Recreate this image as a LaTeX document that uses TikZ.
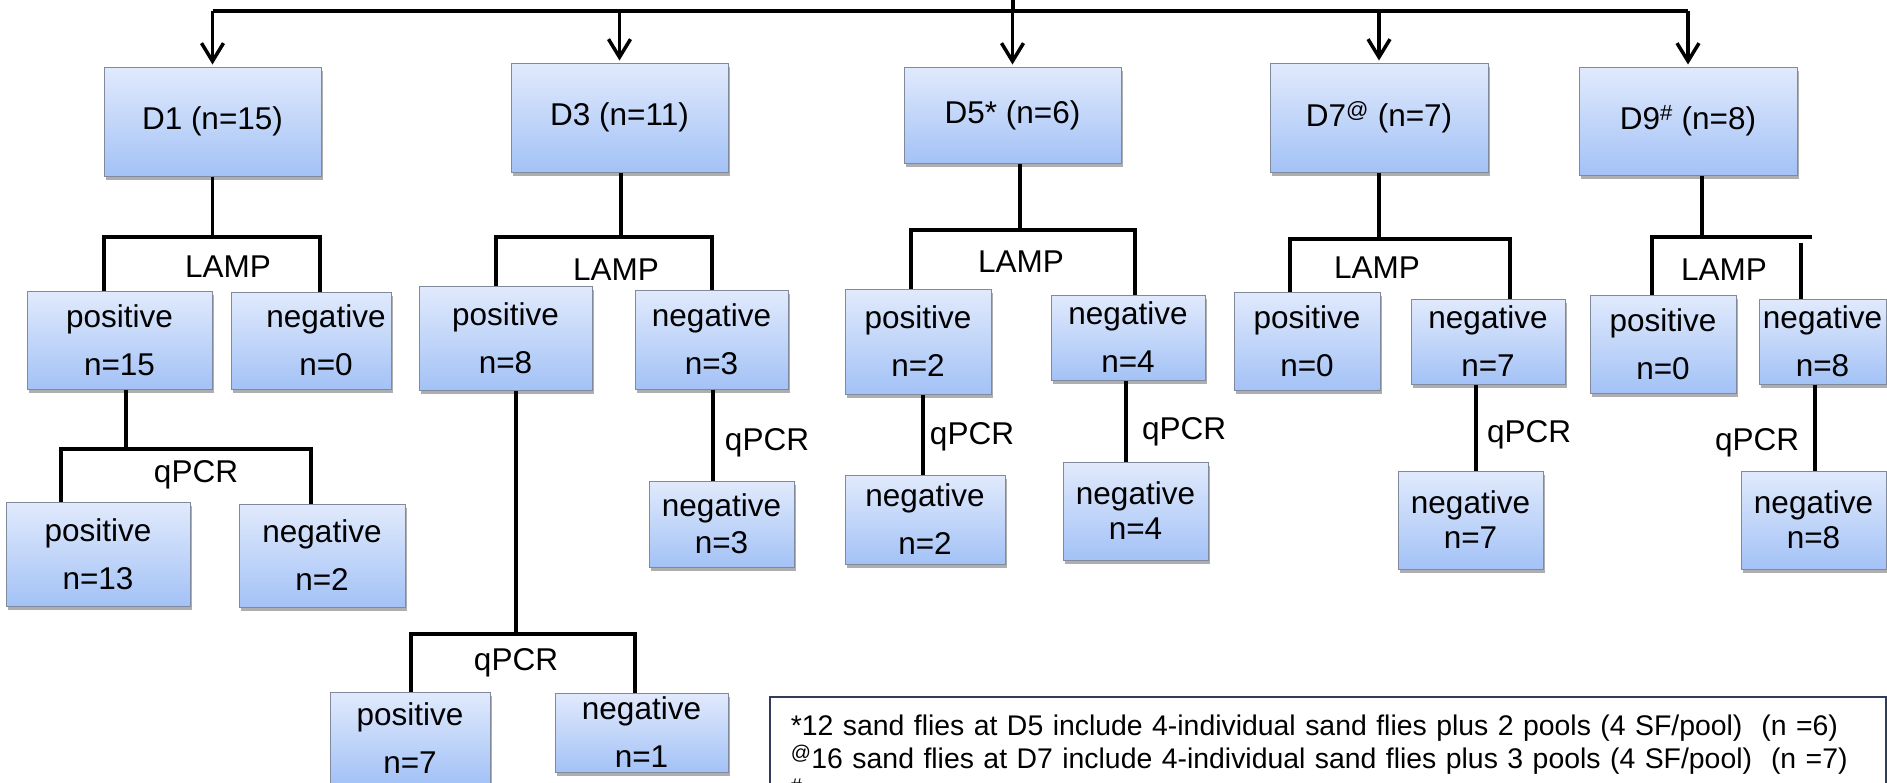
\documentclass[tikz,border=0pt]{standalone}
\usepackage{fontspec}
\setmainfont{Liberation Sans}
\usepackage{xcolor}
\usepackage{tikz}
\usetikzlibrary{positioning,shadows,arrows.meta}
\definecolor{boxtop}{RGB}{225,234,252}
\definecolor{boxbot}{RGB}{163,194,246}
\definecolor{boxline}{RGB}{128,138,156}
\definecolor{noteline}{RGB}{48,60,88}

\begin{document}
\begin{tikzpicture}[x=1pt, y=-1pt,
    res/.style={rectangle, draw=boxline, line width=1pt, top color=boxtop, bottom color=boxbot,
        inner sep=0pt, align=center, font=\fontsize{31.5}{48}\selectfont,
        drop shadow={shadow xshift=1.5pt, shadow yshift=-3.5pt, opacity=0.45, fill=black!70}},
    tag/.style={inner sep=0pt, font=\fontsize{31.5}{38}\selectfont},
    link/.style={line width=3.5pt},
    arr/.style={line width=3.5pt, shorten >=2pt, -{Straight Barb[length=18pt, width=22pt]}},
    note/.style={rectangle, draw=noteline, line width=1.5pt, fill=white, align=left,
        text width=1074pt, inner xsep=21pt, inner ysep=18pt, font=\fontsize{28.4}{33}\selectfont}
]
    \useasboundingbox (0,0) rectangle (1887,782);

    \node[res, minimum width=217pt, minimum height=109pt] (d1) at (212.5,121.5) {D1 (n=15)};
    \node[res, minimum width=217pt, minimum height=109pt] (d3) at (619.5,117.5) {D3 (n=11)};
    \node[res, minimum width=217pt, minimum height=96pt] (d5) at (1012.5,115) {D5* (n=6)};
    \node[res, minimum width=218pt, minimum height=109pt] (d7) at (1379,117.5) {D7\textsuperscript{@} (n=7)};
    \node[res, minimum width=218pt, minimum height=108pt] (d9) at (1688,121) {D9\textsuperscript{\#} (n=8)};

    \node[res, minimum width=185pt, minimum height=98pt] (d1p) at (119.5,340) {positive\\n=15};
    \node[res, minimum width=160pt, minimum height=97pt] (d1n) at (311,340.5) {\hspace*{30pt}negative\\\hspace*{30pt}n=0};
    \node[res, minimum width=173pt, minimum height=104pt] (d3p) at (505.5,338) {positive\\n=8};
    \node[res, minimum width=153pt, minimum height=99pt] (d3n) at (711.5,339.5) {negative\\n=3};
    \node[res, minimum width=146pt, minimum height=105pt] (d5p) at (918,341.5) {positive\\n=2};
    \node[res, minimum width=154pt, minimum height=85pt] (d5n) at (1128,337.5) {negative\\n=4};
    \node[res, minimum width=146pt, minimum height=98pt] (d7p) at (1307,341) {positive\\n=0};
    \node[res, minimum width=154pt, minimum height=85pt] (d7n) at (1488,341.5) {negative\\n=7};
    \node[res, minimum width=146pt, minimum height=98pt] (d9p) at (1663,344) {positive\\n=0};
    \node[res, minimum width=127pt, minimum height=85pt] (d9n) at (1822.5,341.5) {negative\\n=8};

    \node[res, minimum width=184pt, minimum height=104pt] (d1pp) at (98,554) {positive\\n=13};
    \node[res, minimum width=166pt, minimum height=103pt] (d1pn) at (322,555.5) {negative\\n=2};
    \node[res, minimum width=160pt, minimum height=92pt] (d3pp) at (410,738) {positive\\n=7};
    \node[res, minimum width=173pt, minimum height=79pt] (d3pn) at (641.5,732.5) {negative\\n=1};
    \node[res, minimum width=145pt, minimum height=86pt] (d3nn) at (721.5,524) {negative\\[-11pt]n=3};
    \node[res, minimum width=160pt, minimum height=89pt] (d5pn) at (925,519.5) {negative\\n=2};
    \node[res, minimum width=145pt, minimum height=98pt] (d5nn) at (1135.5,511) {negative\\[-13pt]n=4};
    \node[res, minimum width=145pt, minimum height=98pt] (d7nn) at (1470.5,520) {negative\\[-13pt]n=7};
    \node[res, minimum width=145pt, minimum height=98pt] (d9nn) at (1813.5,520) {negative\\[-13pt]n=8};

    \coordinate (root) at (1013,0);
    \coordinate (bar) at (1013,11);
    \draw[link] (root) -- (bar);
    \draw[link] (d1 |- bar) -- (d9 |- bar);
    \foreach \d in {d1,d3,d5,d7,d9}
        \draw[arr] (\d |- bar) -- (\d.north);

    \coordinate (l1) at (104,237); \coordinate (m1) at (212.5,237); \coordinate (r1) at (320,237);
    \draw[link] (m1 |- d1.south) -- (m1);
    \draw[link] (l1 |- d1p.north) -- (l1) -- (r1) -- (r1 |- d1n.north);
    \node[tag] (lamp1) at (228,267) {LAMP};

    \coordinate (l3) at (496,237); \coordinate (m3) at (621,237); \coordinate (r3) at (712,237);
    \draw[link] (m3 |- d3.south) -- (m3);
    \draw[link] (l3 |- d3p.north) -- (l3) -- (r3) -- (r3 |- d3n.north);
    \node[tag] (lamp3) at (616,270) {LAMP};

    \coordinate (l5) at (911,230); \coordinate (m5) at (1020,230); \coordinate (r5) at (1135,230);
    \draw[link] (m5 |- d5.south) -- (m5);
    \draw[link] (l5 |- d5p.north) -- (l5) -- (r5) -- (r5 |- d5n.north);
    \node[tag] (lamp5) at (1021,262) {LAMP};

    \coordinate (l7) at (1290,239); \coordinate (m7) at (1379,239); \coordinate (r7) at (1510,239);
    \draw[link] (m7 |- d7.south) -- (m7);
    \draw[link] (l7 |- d7p.north) -- (l7) -- (r7) -- (r7 |- d7n.north);
    \node[tag] (lamp7) at (1377,268) {LAMP};

    \coordinate (l9) at (1652,237); \coordinate (m9) at (1702,237); \coordinate (r9) at (1812,237);
    \coordinate (k9) at (1801,243);
    \draw[link] (m9 |- d9.south) -- (m9);
    \draw[link] (l9 |- d9p.north) -- (l9) -- (r9);
    \draw[link] (k9) -- (k9 |- d9n.north);
    \node[tag] (lamp9) at (1724,270) {LAMP};

    \coordinate (l1p) at (61,449); \coordinate (m1p) at (126,449); \coordinate (r1p) at (311,449);
    \draw[link] (m1p |- d1p.south) -- (m1p);
    \draw[link] (l1p |- d1pp.north) -- (l1p) -- (r1p) -- (r1p |- d1pn.north);
    \node[tag] (pcr1) at (196,475) {qPCR};

    \coordinate (l3p) at (411,634); \coordinate (m3p) at (516,634); \coordinate (r3p) at (635,634);
    \draw[link] (m3p |- d3p.south) -- (m3p);
    \draw[link] (l3p |- d3pp.north) -- (l3p) -- (r3p) -- (r3p |- d3pn.north);
    \node[tag] (pcr3p) at (516,663) {qPCR};

    \coordinate (s3n) at (713,0);
    \draw[link] (s3n |- d3n.south) -- (s3n |- d3nn.north);
    \node[tag] (pcr3n) at (767,443) {qPCR};

    \coordinate (s5p) at (923,0);
    \draw[link] (s5p |- d5p.south) -- (s5p |- d5pn.north);
    \node[tag] (pcr5p) at (972,437) {qPCR};

    \coordinate (s5n) at (1126,0);
    \draw[link] (s5n |- d5n.south) -- (s5n |- d5nn.north);
    \node[tag] (pcr5n) at (1184,432) {qPCR};

    \coordinate (s7n) at (1476,0);
    \draw[link] (s7n |- d7n.south) -- (s7n |- d7nn.north);
    \node[tag] (pcr7n) at (1529,435) {qPCR};

    \coordinate (s9n) at (1815,0);
    \draw[link] (s9n |- d9n.south) -- (s9n |- d9nn.north);
    \node[tag] (pcr9n) at (1757,443) {qPCR};

    \node[note, anchor=north west] (note) at (769,696) {*12 sand flies at D5 include 4-individual sand flies plus 2 pools (4 SF/pool)\ \ (n =6)\\\textsuperscript{@}16 sand flies at D7 include 4-individual sand flies plus 3 pools (4 SF/pool)\ \ (n =7)\\\textsuperscript{\#}};
\end{tikzpicture}
\end{document}
